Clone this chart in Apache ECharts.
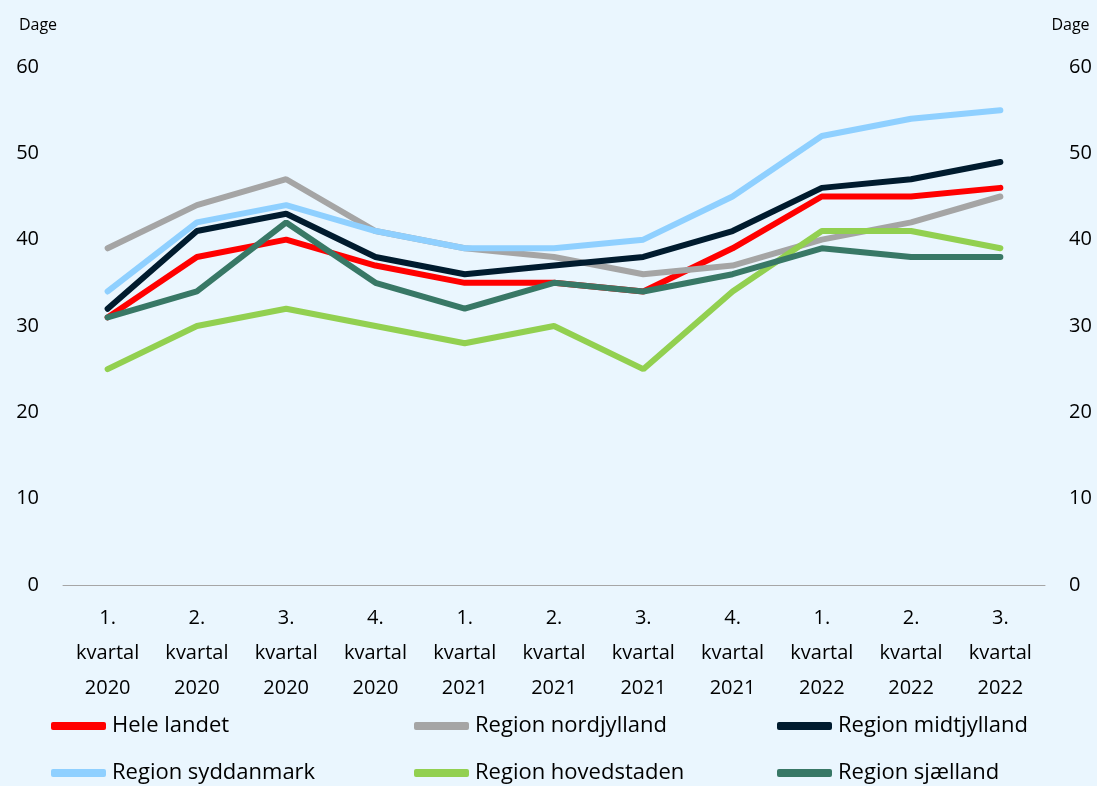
<!DOCTYPE html>
<html>
<head>
<meta charset="utf-8">
<script src="https://cdn.jsdelivr.net/npm/echarts@6/dist/echarts.min.js"></script>
<style>
html,body{margin:0;padding:0;background:#EAF6FE;}
#chart{width:1097px;height:786px;}
</style>
</head>
<body>
<div id="chart"></div>
<script>
var categories = ['1.\nkvartal\n2020','2.\nkvartal\n2020','3.\nkvartal\n2020','4.\nkvartal\n2020',
	'1.\nkvartal\n2021','2.\nkvartal\n2021','3.\nkvartal\n2021','4.\nkvartal\n2021',
	'1.\nkvartal\n2022','2.\nkvartal\n2022','3.\nkvartal\n2022'];
var seriesNames = ['Hele landet','Region nordjylland','Region midtjylland','Region syddanmark','Region hovedstaden','Region sjælland'];
var heleLandet   = [31, 38, 40, 37, 35, 35, 34, 39, 45, 45, 46];
var nordjylland  = [39, 44, 47, 41, 39, 38, 36, 37, 40, 42, 45];
var midtjylland  = [32, 41, 43, 38, 36, 37, 38, 41, 46, 47, 49];
var syddanmark   = [34, 42, 44, 41, 39, 39, 40, 45, 52, 54, 55];
var hovedstaden  = [25, 30, 32, 30, 28, 30, 25, 34, 41, 41, 39];
var sjaelland    = [31, 34, 42, 35, 32, 35, 34, 36, 39, 38, 38];

var colors = ['#FF0000','#A5A5A5','#001B2E','#8FD0FF','#92D050','#387866'];
var values = [heleLandet, nordjylland, midtjylland, syddanmark, hovedstaden, sjaelland];
var font = '"Open Sans", sans-serif';

var chart = echarts.init(document.getElementById('chart'));

var legendPos = [[46,710],[409,710],[772,710],[46,757],[409,757],[772,757]];
var legends = seriesNames.map(function(name, i){
	return {
		data:[name],
		left:legendPos[i][0],
		top:legendPos[i][1],
		icon:'roundRect',
		itemWidth:55,
		itemHeight:8,
		itemGap:0,
		textStyle:{fontFamily:font,fontSize:22,color:'#000',padding:[0,0,0,1]},
		selectedMode:false
	};
});

var yAxisCommon = {
	type:'value',
	min:0,
	max:60,
	interval:10,
	name:'Dage',
	nameGap:34,
	axisLine:{show:false},
	axisTick:{show:false},
	splitLine:{show:false},
	axisLabel:{fontFamily:font,fontSize:20,color:'#000',margin:24}
};

var option = {
	backgroundColor:'#EAF6FE',
	color:colors,
	animation:false,
	legend:legends,
	grid:{left:63,right:52,top:67,bottom:201},
	xAxis:{
		type:'category',
		data:categories,
		boundaryGap:true,
		axisLine:{lineStyle:{color:'#A6A6A6',width:1}},
		axisTick:{show:false},
		axisLabel:{fontFamily:font,fontSize:20,color:'#000',lineHeight:35,margin:16,interval:0}
	},
	yAxis:[
		Object.assign({}, yAxisCommon, {position:'left', nameTextStyle:{fontFamily:font,fontSize:16,color:'#000',align:'center',padding:[0,0,0,-50]}}),
		Object.assign({}, yAxisCommon, {position:'right', nameTextStyle:{fontFamily:font,fontSize:16,color:'#000',align:'center',padding:[0,-51,0,0]}})
	],
	series:seriesNames.map(function(name, i){
		return {
			name:name,
			type:'line',
			data:values[i],
			symbol:'none',
			silent:true,
			lineStyle:{width:6,cap:'round',color:colors[i]}
		};
	})
};
chart.setOption(option);
</script>
</body>
</html>
